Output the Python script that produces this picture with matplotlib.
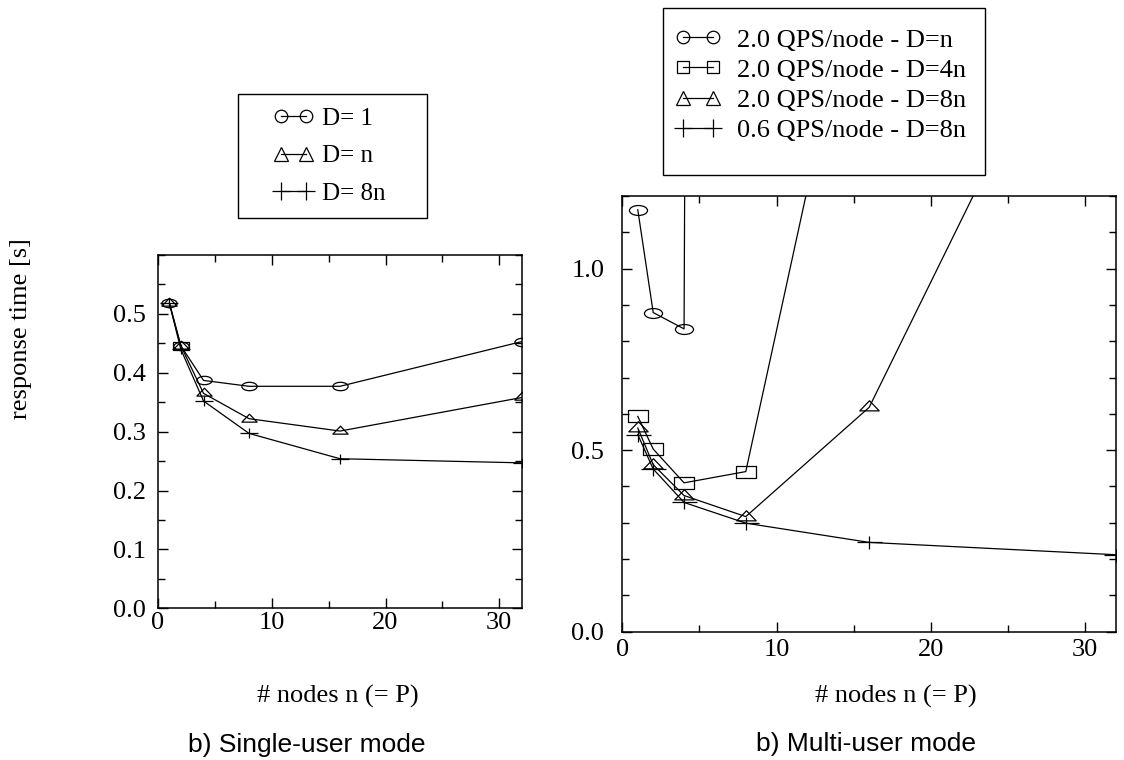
import numpy as np
import matplotlib
matplotlib.use("Agg")
import matplotlib.pyplot as plt
from matplotlib.path import Path
from matplotlib.lines import Line2D
from matplotlib.patches import Rectangle
from matplotlib.ticker import MultipleLocator

plt.rcParams['font.family'] = ['Liberation Serif', 'DejaVu Serif']

# Single-user mode data
nodes_single = [1, 2, 4, 8, 16, 32]
resp_d1 = [0.518, 0.446, 0.387, 0.377, 0.377, 0.453]
resp_dn = [0.518, 0.446, 0.365, 0.322, 0.301, 0.358]
resp_d8n = [0.518, 0.440, 0.352, 0.297, 0.254, 0.247]
extra_square = [0.446]   # stray square marker at n=2

# Multi-user mode data
nodes_c = [1, 2, 4, 8]
resp_c = [1.162, 0.879, 0.834, 40.0]      # 2.0 QPS/node, D=n
nodes_s = [1, 2, 4, 8, 16]
resp_s = [0.593, 0.503, 0.410, 0.441, 2.0]  # 2.0 QPS/node, D=4n
nodes_t = [1, 2, 4, 8, 16, 32]
resp_t = [0.561, 0.460, 0.375, 0.317, 0.618, 2.0]  # 2.0 QPS/node, D=8n
nodes_p = [1, 2, 4, 8, 16, 32]
resp_p = [0.543, 0.448, 0.356, 0.299, 0.246, 0.212]  # 0.6 QPS/node, D=8n

legend_single = ['D= 1', 'D= n', 'D= 8n']
legend_multi = ['2.0 QPS/node - D=n', '2.0 QPS/node - D=4n',
                '2.0 QPS/node - D=8n', '0.6 QPS/node - D=8n']

W, H = 1124, 760


def squashed(path_verts, codes=None, sy=0.6):
    v = np.array(path_verts, dtype=float)
    v[:, 1] *= sy
    return Path(v, codes)


circ = Path.unit_circle()
ell = Path(circ.vertices * np.array([1.0, 0.55]), circ.codes)
tri = squashed([(-1, -0.577), (1, -0.577), (0, 1.155), (-1, -0.577)],
               [Path.MOVETO, Path.LINETO, Path.LINETO, Path.CLOSEPOLY], sy=0.6)
sq = squashed([(-1, -1), (1, -1), (1, 1), (-1, 1), (-1, -1)],
              [Path.MOVETO, Path.LINETO, Path.LINETO, Path.LINETO, Path.CLOSEPOLY], sy=0.58)
plus = squashed([(-1, 0), (1, 0), (0, -1), (0, 1)],
                [Path.MOVETO, Path.LINETO, Path.MOVETO, Path.LINETO], sy=0.52)

fig = plt.figure(figsize=(W / 100, H / 100), dpi=100)
ax1 = fig.add_axes([0.1406, 0.1996, 0.3238, 0.4649])
ax2 = fig.add_axes([0.5537, 0.1688, 0.4392, 0.5733])

lw = 0.9
kw = dict(color='black', linewidth=lw, markerfacecolor='none',
          markeredgecolor='black', markeredgewidth=0.9, clip_on=True)

ax1.plot(nodes_single, resp_d1, marker=ell, markersize=11, **kw)
ax1.plot(nodes_single, resp_dn, marker=tri, markersize=11, **kw)
ax1.plot(nodes_single, resp_d8n, marker=plus, markersize=13, **kw)
ax1.plot([2], extra_square, linestyle='none', marker=sq, markersize=11,
         markerfacecolor='none', markeredgecolor='black', markeredgewidth=0.9)

ax2.plot(nodes_c, resp_c, marker=ell, markersize=13, **kw)
ax2.plot(nodes_s, resp_s, marker=sq, markersize=14, **kw)
ax2.plot(nodes_t, resp_t, marker=tri, markersize=14, **kw)
ax2.plot(nodes_p, resp_p, marker=plus, markersize=18, **kw)

ax1.set_xlim(0, 32)
ax1.set_ylim(0, 0.6)
ax2.set_xlim(0, 32)
ax2.set_ylim(0, 1.2)

ax1.xaxis.set_major_locator(MultipleLocator(10))
ax1.xaxis.set_minor_locator(MultipleLocator(5))
ax1.set_yticks([0.0, 0.1, 0.2, 0.3, 0.4, 0.5])
ax1.set_yticklabels(['0.0', '0.1', '0.2', '0.3', '0.4', '0.5'])
ax1.yaxis.set_minor_locator(MultipleLocator(0.05))

ax2.xaxis.set_major_locator(MultipleLocator(10))
ax2.xaxis.set_minor_locator(MultipleLocator(5))
ax2.set_yticks([0.0, 0.5, 1.0])
ax2.set_yticklabels(['0.0', '0.5', '1.0'])
ax2.yaxis.set_minor_locator(MultipleLocator(0.1))

for ax, xpad, ypad in [(ax1, 3, 9), (ax2, 5, 13)]:
    ax.tick_params(which='both', direction='in', top=True, right=True,
                   labelsize=19, width=1.0, color='black')
    ax.tick_params(which='major', length=7)
    ax.tick_params(which='minor', length=5)
    ax.tick_params(axis='x', pad=xpad)
    ax.tick_params(axis='y', pad=ypad)
    for s in ax.spines.values():
        s.set_linewidth(1.1)

# legends: frameless, with boxes drawn separately
mk_leg = dict(color='black', linewidth=lw, markerfacecolor='none',
              markeredgecolor='black', markeredgewidth=0.9)
h1 = [Line2D([], [], marker='o', markersize=9, **mk_leg),
      Line2D([], [], marker='^', markersize=10, **mk_leg),
      Line2D([], [], marker='+', markersize=13, **mk_leg)]
fig.legend(h1, legend_single, loc='center left',
           bbox_to_anchor=(273 / W, 1 - 156 / H), numpoints=2,
           handlelength=1.6, handletextpad=0.35, fontsize=18,
           frameon=False, borderpad=0, labelspacing=0.59, borderaxespad=0)
fig.patches.append(Rectangle((238 / W, 1 - 218 / H), 189 / W, 124 / H,
                             transform=fig.transFigure, fill=False,
                             edgecolor='black', linewidth=1.0))

h2 = [Line2D([], [], marker='o', markersize=9, **mk_leg),
      Line2D([], [], marker='s', markersize=9, **mk_leg),
      Line2D([], [], marker='^', markersize=10, **mk_leg),
      Line2D([], [], marker='+', markersize=13, **mk_leg)]
fig.legend(h2, legend_multi, loc='center left',
           bbox_to_anchor=(675 / W, 1 - 85 / H), numpoints=2,
           handlelength=1.74, handletextpad=0.6, fontsize=19,
           frameon=False, borderpad=0, labelspacing=0.25, borderaxespad=0)
fig.patches.append(Rectangle((663 / W, 1 - 175 / H), 322 / W, 167 / H,
                             transform=fig.transFigure, fill=False,
                             edgecolor='black', linewidth=1.0))

# axis labels and captions
fig.text(21 / W, 1 - 329 / H, 'response time [s]', rotation=90,
         ha='center', va='center', fontsize=19)
fig.text(338 / W, 1 - 696 / H, '# nodes n (= P)', ha='center',
         va='center', fontsize=19)
fig.text(896 / W, 1 - 696 / H, '# nodes n (= P)', ha='center',
         va='center', fontsize=19)
fig.text(307 / W, 1 - 745 / H, 'b) Single-user mode', ha='center',
         va='center', fontsize=19, family=['Liberation Sans', 'DejaVu Sans'])
fig.text(866 / W, 1 - 744 / H, 'b) Multi-user mode', ha='center',
         va='center', fontsize=19, family=['Liberation Sans', 'DejaVu Sans'])

fig.savefig('out.png', dpi=100)
